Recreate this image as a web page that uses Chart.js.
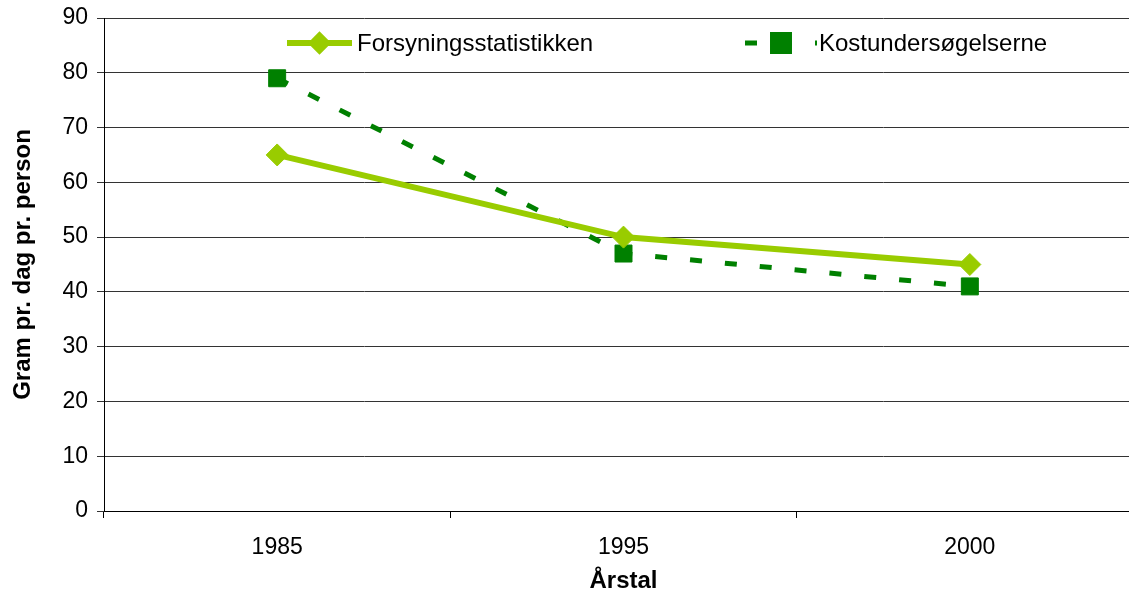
<!DOCTYPE html>
<html>
<head>
<meta charset="utf-8">
<script src="https://cdn.jsdelivr.net/npm/chart.js@4/dist/chart.umd.min.js"></script>
<style>
  html, body { margin: 0; padding: 0; background: #fff; overflow: hidden; }
  canvas { display: block; }
</style>
</head>
<body>
<canvas id="c" width="1156" height="596"></canvas>
<script>
// Daily intake (gram per person per day) from two sources
const years = ['1985', '1995', '2000'];
const forsyning = [65, 50, 45];
const kostundersoegelser = [79, 47, 41];
const seriesNames = ['Forsyningsstatistikken', 'Kostundersøgelserne'];
const yTicks = [0, 10, 20, 30, 40, 50, 60, 70, 80, 90];

const FONT = '"Liberation Sans", Arial, sans-serif';
const LIGHT_GREEN = '#99CC00';
const DARK_GREEN = '#008000';

// Legend drawn inside the plot area: a short line sample with its marker, then the name
const inlineLegend = {
  id: 'inlineLegend',
  afterDraw(chart) {
    const ctx = chart.ctx;
    const y = 43;
    const items = [
      { ds: 0, x0: 287, x1: 352, textX: 357, radius: 7.5 },
      { ds: 1, x0: 745, x1: 817, textX: 819, radius: 12 }
    ];
    items.forEach(it => {
      const ds = chart.data.datasets[it.ds];
      ctx.save();
      ctx.strokeStyle = ds.borderColor;
      ctx.lineWidth = ds.borderWidth;
      ctx.setLineDash(ds.borderDash || []);
      ctx.lineCap = 'butt';
      ctx.beginPath();
      ctx.moveTo(it.x0, y);
      ctx.lineTo(it.x1, y);
      ctx.stroke();
      ctx.setLineDash([]);
      Chart.helpers.drawPoint(ctx, {
        pointStyle: ds.pointStyle,
        radius: it.radius,
        rotation: 0,
        borderWidth: ds.pointBorderWidth
      }, (it.x0 + it.x1) / 2, y);
      ctx.fillStyle = ds.pointBackgroundColor;
      ctx.strokeStyle = ds.pointBorderColor;
      ctx.lineWidth = ds.pointBorderWidth;
      ctx.fill();
      ctx.stroke();
      ctx.fillStyle = '#000';
      ctx.font = '24px ' + FONT;
      ctx.textBaseline = 'middle';
      ctx.textAlign = 'left';
      ctx.fillText(ds.label, it.textX, y + 1);
      ctx.restore();
    });
  }
};

new Chart(document.getElementById('c'), {
  type: 'line',
  data: {
    labels: years,
    datasets: [
      {
        label: seriesNames[0],
        data: forsyning,
        borderColor: LIGHT_GREEN,
        backgroundColor: LIGHT_GREEN,
        borderWidth: 6,
        pointStyle: 'rectRot',
        pointRadius: 11,
        pointHoverRadius: 11,
        pointBackgroundColor: LIGHT_GREEN,
        pointBorderColor: LIGHT_GREEN,
        pointBorderWidth: 1,
        tension: 0,
        fill: false
      },
      {
        label: seriesNames[1],
        data: kostundersoegelser,
        borderColor: DARK_GREEN,
        backgroundColor: DARK_GREEN,
        borderWidth: 5,
        borderDash: [12, 23],
        pointStyle: 'rect',
        pointRadius: 12,
        pointHoverRadius: 12,
        pointBackgroundColor: DARK_GREEN,
        pointBorderColor: DARK_GREEN,
        pointBorderWidth: 1,
        tension: 0,
        fill: false
      }
    ]
  },
  options: {
    responsive: false,
    animation: false,
    layout: { padding: { top: 18, right: 8, bottom: 0, left: 0 } },
    plugins: {
      legend: { display: false },
      tooltip: { enabled: false }
    },
    scales: {
      x: {
        type: 'category',
        offset: true,
        grid: {
          offset: true,
          drawOnChartArea: false,
          drawTicks: true,
          tickLength: 7,
          color: '#000'
        },
        border: { color: '#000', width: 1 },
        ticks: {
          color: '#000',
          font: { family: FONT, size: 23 },
          padding: 16,
          maxRotation: 0
        },
        title: {
          display: true,
          text: 'Årstal',
          color: '#000',
          font: { family: FONT, size: 24, weight: 'bold' },
          padding: { top: 0, bottom: 0 }
        },
        afterFit(scale) { scale.height = 85; }
      },
      y: {
        min: 0,
        max: 90,
        afterBuildTicks(scale) { scale.ticks = yTicks.map(v => ({ value: v })); },
        grid: {
          color: '#333',
          lineWidth: 1,
          drawTicks: true,
          tickLength: 7
        },
        border: { color: '#000', width: 1 },
        ticks: {
          color: '#000',
          font: { family: FONT, size: 23 },
          padding: 9
        },
        title: {
          display: true,
          text: 'Gram pr. dag pr. person',
          color: '#000',
          font: { family: FONT, size: 24, weight: 'bold' },
          padding: { top: 9, bottom: 0 }
        },
        afterFit(scale) {
          scale.width = 104;
          scale.paddingTop = 0;
          scale.paddingBottom = 0;
        }
      }
    }
  },
  plugins: [inlineLegend]
});
</script>
</body>
</html>
